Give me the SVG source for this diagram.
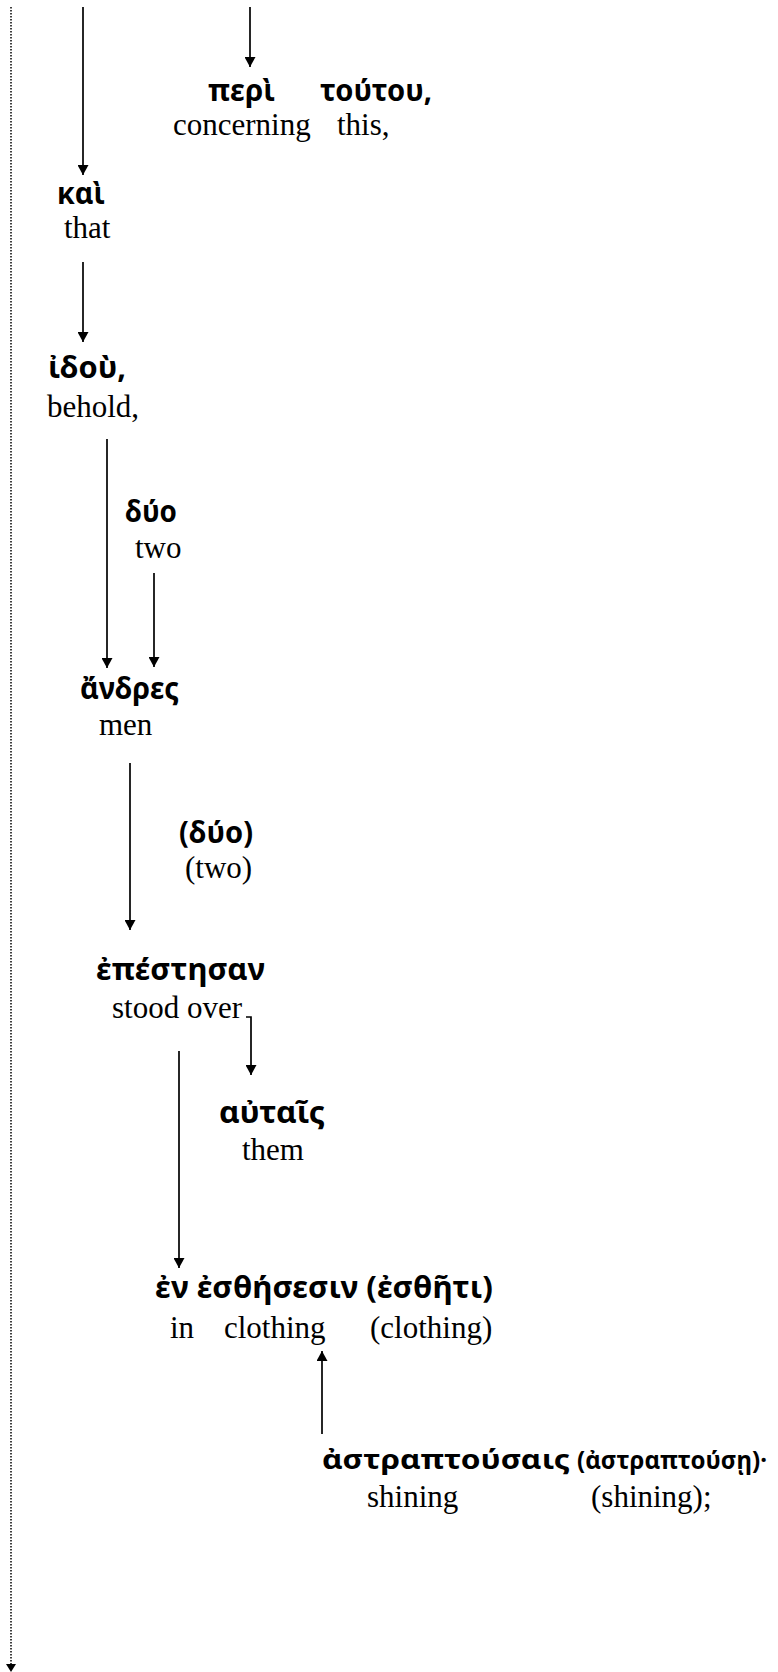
<svg xmlns="http://www.w3.org/2000/svg" width="778" height="1672" viewBox="0 0 778 1672">
<defs>
<marker id="ah" markerUnits="userSpaceOnUse" markerWidth="11" markerHeight="11" refX="10" refY="5.5" orient="auto">
<path d="M0,0 L10,5.5 L0,11 z" fill="#000"/>
</marker>
<style>
.g{font-family:"Noto Sans","DejaVu Sans",sans-serif;font-weight:bold;font-size:30px;fill:#000}
.s{font-size:27px}
.t{font-size:24.5px}
.e{font-family:"Liberation Serif","Times New Roman",serif;font-size:31px;fill:#000}
.c{stroke:#000;stroke-width:1.7;fill:none}
</style>
</defs>
<rect width="778" height="1672" fill="#fff"/>
<g id="connectors">
<line x1="11" y1="7" x2="11" y2="1664" stroke="#000" stroke-width="1.5" stroke-dasharray="1.5 1.5"/>
<path d="M6,1664 L16,1664 L11,1672 z" fill="#000"/>
<line class="c" x1="83" y1="7" x2="83" y2="175" marker-end="url(#ah)"/>
<line class="c" x1="250" y1="7" x2="250" y2="67" marker-end="url(#ah)"/>
<line class="c" x1="83" y1="262" x2="83" y2="342" marker-end="url(#ah)"/>
<line class="c" x1="107" y1="439" x2="107" y2="668" marker-end="url(#ah)"/>
<line class="c" x1="154" y1="573" x2="154" y2="667" marker-end="url(#ah)"/>
<line class="c" x1="130" y1="763" x2="130" y2="930" marker-end="url(#ah)"/>
<path class="c" d="M246,1017 H251 V1075" marker-end="url(#ah)"/>
<line class="c" x1="179" y1="1051" x2="179" y2="1268" marker-end="url(#ah)"/>
<line class="c" x1="322" y1="1434" x2="322" y2="1351" marker-end="url(#ah)"/>
</g>
<g id="peri-toutou">
<text class="g" x="208" y="101" textLength="67" lengthAdjust="spacingAndGlyphs">περὶ</text>
<text class="g" x="320" y="101" textLength="112" lengthAdjust="spacingAndGlyphs">τούτου,</text>
<text class="e" x="173" y="135">concerning</text>
<text class="e" x="337" y="135">this,</text>
</g>
<g id="kai">
<text class="g" x="57" y="204" textLength="48" lengthAdjust="spacingAndGlyphs">καὶ</text>
<text class="e" x="64" y="238">that</text>
</g>
<g id="idou">
<text class="g" x="48" y="378" textLength="78" lengthAdjust="spacingAndGlyphs">ἰδοὺ,</text>
<text class="e" x="47" y="417">behold,</text>
</g>
<g id="duo">
<text class="g" x="125" y="522" textLength="52" lengthAdjust="spacingAndGlyphs">δύο</text>
<text class="e" x="135" y="558">two</text>
</g>
<g id="andres">
<text class="g" x="80" y="699" textLength="99" lengthAdjust="spacingAndGlyphs">ἄνδρες</text>
<text class="e" x="99" y="735">men</text>
</g>
<g id="duo2">
<text class="g" x="179" y="843" textLength="74" lengthAdjust="spacingAndGlyphs">(δύο)</text>
<text class="e" x="185" y="878">(two)</text>
</g>
<g id="epestesan">
<text class="g" x="96" y="980" textLength="169" lengthAdjust="spacingAndGlyphs">ἐπέστησαν</text>
<text class="e" x="112" y="1018">stood over</text>
</g>
<g id="autais">
<text class="g" x="219" y="1123" textLength="106" lengthAdjust="spacingAndGlyphs">αὐταῖς</text>
<text class="e" x="242" y="1160">them</text>
</g>
<g id="en-esthesesin">
<text class="g" x="155" y="1298" textLength="338" lengthAdjust="spacingAndGlyphs">ἐν ἐσθήσεσιν (ἐσθῆτι)</text>
<text class="e" x="170" y="1338">in</text>
<text class="e" x="224" y="1338">clothing</text>
<text class="e" x="370" y="1338">(clothing)</text>
</g>
<g id="astraptousais">
<text class="g s" x="322" y="1469" textLength="248" lengthAdjust="spacingAndGlyphs">ἀστραπτούσαις</text>
<text class="g t" x="577" y="1469" textLength="190" lengthAdjust="spacingAndGlyphs">(ἀστραπτούσῃ)·</text>
<text class="e" x="367" y="1507">shining</text>
<text class="e" x="591" y="1507">(shining);</text>
</g>
</svg>
